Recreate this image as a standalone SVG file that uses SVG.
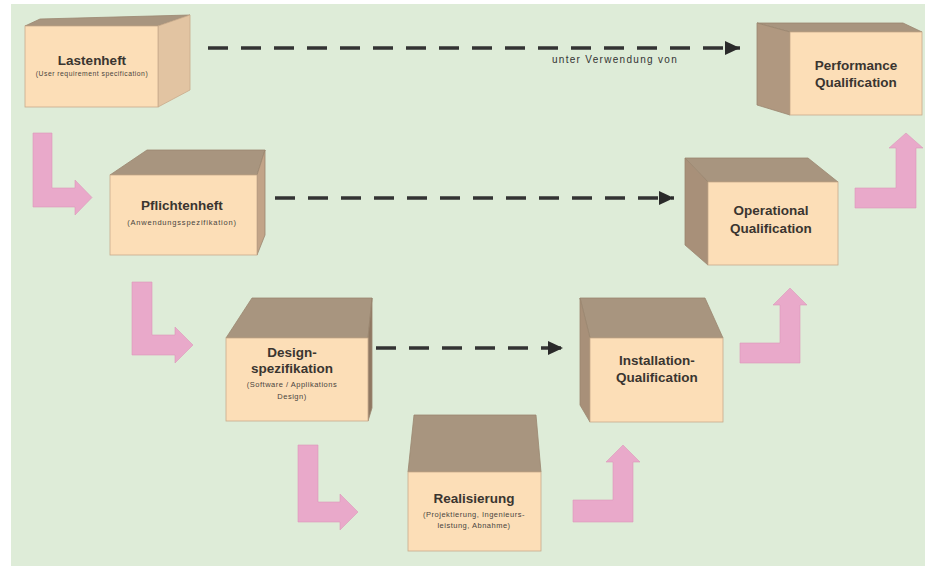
<svg xmlns="http://www.w3.org/2000/svg" width="934" height="572" viewBox="0 0 934 572">
  <defs>
    <marker id="ah" markerUnits="userSpaceOnUse" markerWidth="16" markerHeight="14" refX="15" refY="7" orient="auto">
      <path d="M0,0 L15,7 L0,14 Z" fill="#2a2a2a"/>
    </marker>
    <style>
      .front { fill: #fcdeb7; stroke: #c9ab8c; stroke-width: 0.8; }
      .top { fill: #a8957f; stroke: #9a8670; stroke-width: 0.8; }
      .side { fill: #a89079; stroke: #9a8670; stroke-width: 0.8; }
      .sidelight { fill: #e2c4a2; stroke: #c9ab8c; stroke-width: 0.8; }
      .pink { fill: #e9a9ca; stroke: #dc98bb; stroke-width: 0.6; }
      .dash { fill: none; stroke: #333333; stroke-width: 3.5; stroke-dasharray: 20 13; }
      .t { font-family: "Liberation Sans", Arial, sans-serif; font-weight: bold; font-size: 13.5px; fill: #3a3530; text-anchor: middle; }
      .s { font-family: "Liberation Sans", Arial, sans-serif; font-size: 7.5px; fill: #4a4540; text-anchor: middle; letter-spacing: 0.5px; }
      .lbl { font-family: "Liberation Sans", Arial, sans-serif; font-size: 10px; fill: #333; text-anchor: middle; letter-spacing: 1.3px; }
    </style>
  </defs>

  <rect x="0" y="0" width="934" height="572" fill="#ffffff"/>
  <rect x="11" y="4" width="914" height="562" fill="#deecd8"/>

  <g id="connectors">
    <path class="dash" d="M208,48 H740" marker-end="url(#ah)"/>
    <text class="lbl" x="615" y="63">unter Verwendung von</text>
    <path class="dash" d="M275,198 H674" marker-end="url(#ah)"/>
    <path class="dash" d="M376,348 H563" marker-end="url(#ah)"/>

    <polygon class="pink" points="33,133 52,133 52,188 75,188 75,180 92,197.5 75,215 75,207 33,207"/>
    <polygon class="pink" points="132,282 152,282 152,335 175,335 175,327 193,345 175,363 175,355 132,355"/>
    <polygon class="pink" points="298,445 318,445 318,502 340,502 340,494 358,512 340,530 340,522 298,522"/>
    <polygon class="pink" points="573,500 613,500 613,462 606,462 623,445 640,462 633,462 633,522 573,522"/>
    <polygon class="pink" points="740,343 780,343 780,305 773,305 790,288 807,305 800,305 800,363 740,363"/>
    <polygon class="pink" points="855,188 896,188 896,148 889,148 906,133 923,148 916,148 916,208 855,208"/>
  </g>

  <g id="lastenheft">
    <polygon class="top" points="25,26 40,19 190,15 158,26"/>
    <polygon class="sidelight" points="158,26 190,15 190,90 158,107"/>
    <rect class="front" x="25" y="26" width="133" height="81"/>
    <text class="t" x="92" y="65">Lastenheft</text>
    <text class="s" x="92" y="76" style="font-size:6.8px">(User requirement specification)</text>
  </g>

  <g id="pflichtenheft">
    <polygon class="top" points="110,175 147,150 265,150 257,175"/>
    <polygon class="side" points="257,175 265,150 265,235 257,255" style="fill:#c2a488"/>
    <rect class="front" x="110" y="175" width="147" height="80"/>
    <text class="t" x="182" y="210">Pflichtenheft</text>
    <text class="s" x="182" y="225" style="letter-spacing:0.8px">(Anwendungsspezifikation)</text>
  </g>

  <g id="designspezifikation">
    <polygon class="top" points="226,338 252,298 372,298 368,338"/>
    <polygon class="side" points="368,338 372,298 372,408 368,421" style="fill:#8f7862"/>
    <rect class="front" x="226" y="338" width="142" height="83"/>
    <text class="t" x="292" y="357">Design-</text>
    <text class="t" x="292" y="373">spezifikation</text>
    <text class="s" x="292" y="387">(Software / Applikations</text>
    <text class="s" x="292" y="399">Design)</text>
  </g>

  <g id="realisierung">
    <polygon class="top" points="408,472 414,415 536,415 541,472"/>
    <rect class="front" x="408" y="472" width="133" height="79"/>
    <text class="t" x="474" y="503">Realisierung</text>
    <text class="s" x="474" y="517">(Projektierung, Ingenieurs-</text>
    <text class="s" x="474" y="528">leistung, Abnahme)</text>
  </g>

  <g id="installation">
    <polygon class="top" points="580,298 705,298 723,338 590,338"/>
    <polygon class="side" points="580,298 590,338 590,422 580,405"/>
    <rect class="front" x="590" y="338" width="133" height="84"/>
    <text class="t" x="657" y="365">Installation-</text>
    <text class="t" x="657" y="382">Qualification</text>
  </g>

  <g id="operational">
    <polygon class="top" points="685,158 808,158 838,182 708,182"/>
    <polygon class="side" points="685,158 708,182 708,265 685,245"/>
    <rect class="front" x="708" y="182" width="130" height="83"/>
    <text class="t" x="771" y="215">Operational</text>
    <text class="t" x="771" y="233">Qualification</text>
  </g>

  <g id="performance">
    <polygon class="top" points="757,23 903,23 922,32 790,32"/>
    <polygon class="side" points="757,23 790,32 790,115 757,105" style="fill:#b09880"/>
    <rect class="front" x="790" y="32" width="132" height="83"/>
    <text class="t" x="856" y="70">Performance</text>
    <text class="t" x="856" y="87">Qualification</text>
  </g>
</svg>
